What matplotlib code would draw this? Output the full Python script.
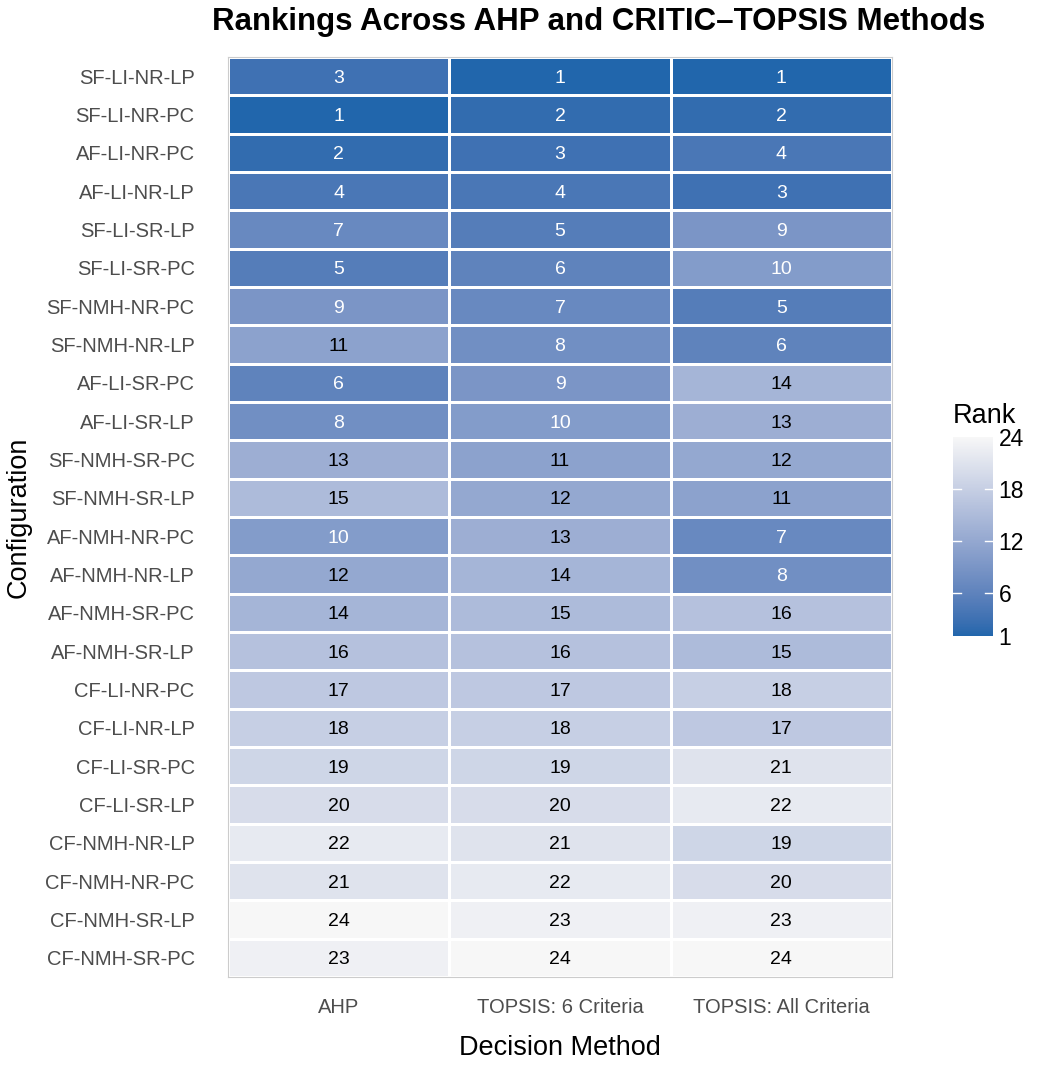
import numpy as np
import matplotlib
matplotlib.use("Agg")
import matplotlib.pyplot as plt
from matplotlib.colors import ListedColormap, Normalize

plt.rcParams['font.family'] = ['Liberation Sans', 'DejaVu Sans']

configs = ["SF-LI-NR-LP", "SF-LI-NR-PC", "AF-LI-NR-PC", "AF-LI-NR-LP",
           "SF-LI-SR-LP", "SF-LI-SR-PC", "SF-NMH-NR-PC", "SF-NMH-NR-LP",
           "AF-LI-SR-PC", "AF-LI-SR-LP", "SF-NMH-SR-PC", "SF-NMH-SR-LP",
           "AF-NMH-NR-PC", "AF-NMH-NR-LP", "AF-NMH-SR-PC", "AF-NMH-SR-LP",
           "CF-LI-NR-PC", "CF-LI-NR-LP", "CF-LI-SR-PC", "CF-LI-SR-LP",
           "CF-NMH-NR-LP", "CF-NMH-NR-PC", "CF-NMH-SR-LP", "CF-NMH-SR-PC"]
methods = ["AHP", "TOPSIS: 6 Criteria", "TOPSIS: All Criteria"]
ahp = [3, 1, 2, 4, 7, 5, 9, 11, 6, 8, 13, 15, 10, 12, 14, 16, 17, 18, 19, 20, 22, 21, 24, 23]
topsis6 = [1, 2, 3, 4, 5, 6, 7, 8, 9, 10, 11, 12, 13, 14, 15, 16, 17, 18, 19, 20, 21, 22, 23, 24]
topsis_all = [1, 2, 4, 3, 9, 10, 5, 6, 14, 13, 12, 11, 7, 8, 16, 15, 18, 17, 21, 22, 19, 20, 23, 24]


# gradient in Lab space like ggplot's scale_fill_gradient
def srgb_to_lab(rgb):
    c = np.array(rgb) / 255.0
    c = np.where(c > 0.04045, ((c + 0.055) / 1.055) ** 2.4, c / 12.92)
    m = np.array([[0.4124, 0.3576, 0.1805], [0.2126, 0.7152, 0.0722], [0.0193, 0.1192, 0.9505]])
    xyz = m @ c / np.array([0.95047, 1.0, 1.08883])
    f = np.where(xyz > 0.008856, np.cbrt(xyz), 7.787 * xyz + 16 / 116)
    return np.array([116 * f[1] - 16, 500 * (f[0] - f[1]), 200 * (f[1] - f[2])])


def lab_to_srgb(lab):
    fy = (lab[0] + 16) / 116
    fx = fy + lab[1] / 500
    fz = fy - lab[2] / 200
    f = np.array([fx, fy, fz])
    xyz = np.where(f ** 3 > 0.008856, f ** 3, (f - 16 / 116) / 7.787) * np.array([0.95047, 1.0, 1.08883])
    m = np.array([[3.2406, -1.5372, -0.4986], [-0.9689, 1.8758, 0.0415], [0.0557, -0.2040, 1.0570]])
    c = m @ xyz
    c = np.where(c > 0.0031308, 1.055 * np.clip(c, 0, None) ** (1 / 2.4) - 0.055, 12.92 * c)
    return np.clip(c, 0, 1)


lo = srgb_to_lab((33, 102, 172))
hi = srgb_to_lab((247, 247, 247))
cmap = ListedColormap([lab_to_srgb(lo + (hi - lo) * t) for t in np.linspace(0, 1, 256)])
norm = Normalize(1, 24)

data = np.array([ahp, topsis6, topsis_all]).T

fig = plt.figure(figsize=(10.39, 10.67), dpi=100)
ax = fig.add_axes([228 / 1039, 1 - 977 / 1067, (892 - 228) / 1039, (977 - 57) / 1067])
ax.pcolormesh(data, cmap=cmap, norm=norm, edgecolor="white", linewidth=1.0)
ax.set_xlim(0, 3)
ax.set_ylim(24, 0)
for i in range(len(configs)):
    for j in range(len(methods)):
        v = data[i, j]
        ax.text(j + 0.5, i + 0.55, str(v), ha="center", va="center", fontsize=14,
                color="white" if v <= 10 else "black")

ax.set_xticks(np.arange(3) + 0.5)
ax.set_xticklabels(methods, fontsize=14.5, color="#4d4d4d")
ax.set_yticks(np.arange(24) + 0.5)
ax.set_yticklabels(configs, fontsize=14.5, color="#4d4d4d")
ax.tick_params(axis="y", length=0, pad=24)
ax.tick_params(axis="x", length=0, pad=15)
for s in ax.spines.values():
    s.set_color("#cccccc")
    s.set_linewidth(0.8)
ax.set_xlabel("Decision Method", fontsize=19.5, labelpad=13)
ax.set_ylabel("Configuration", fontsize=19.5, labelpad=10)
fig.text(599 / 1039, 1 - 22 / 1067, "Rankings Across AHP and CRITIC\u2013TOPSIS Methods",
         ha="center", va="center", fontsize=22.5, fontweight="bold")

cax = fig.add_axes([953 / 1039, 1 - 636 / 1067, 40 / 1039, (636 - 437) / 1067])
sm = plt.cm.ScalarMappable(cmap=cmap, norm=norm)
cb = fig.colorbar(sm, cax=cax, ticks=[1, 6, 12, 18, 24])
cb.outline.set_visible(False)
cax.tick_params(length=0, labelsize=16.5, pad=4)
for t in [6, 12, 18]:
    cax.plot([0, 0.2], [t, t], color="white", lw=1, transform=cax.get_yaxis_transform())
    cax.plot([0.8, 1], [t, t], color="white", lw=1, transform=cax.get_yaxis_transform())
cax.set_title("Rank", fontsize=19.5, loc="left", pad=10)

fig.savefig("out.png", dpi=100)
